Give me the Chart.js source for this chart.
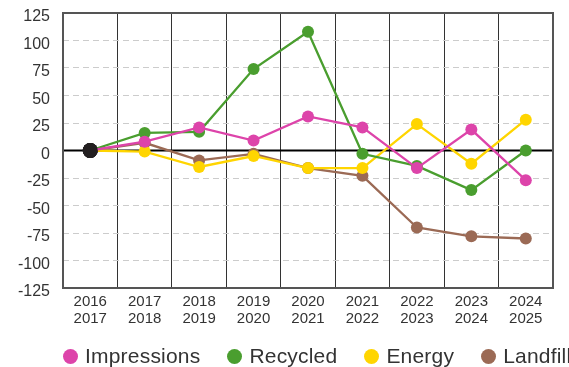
<!DOCTYPE html>
<html>
<head>
<meta charset="utf-8">
<script src="https://cdn.jsdelivr.net/npm/chart.js@4"></script>
<style>
  html, body { margin: 0; padding: 0; background: #fff; overflow: hidden; }
  #wrap { position: relative; width: 569px; height: 367px; }
  #legend {
    position: absolute; left: 63px; top: 342px; white-space: nowrap;
    font-family: "Liberation Sans", Arial, sans-serif; font-size: 21px; color: #333;
    line-height: 28px; letter-spacing: 0.2px;
  }
  #legend .item { display: inline-block; margin-right: 27px; }
  #legend .dot {
    display: inline-block; width: 15px; height: 15px; border-radius: 50%;
    margin-right: 7px; vertical-align: -1px;
  }
</style>
</head>
<body>
<div id="wrap">
  <canvas id="c" width="569" height="367"></canvas>
  <div id="legend"></div>
</div>
<script>
// Year-over-year change by period
const periods = [
  ['2016', '2017'], ['2017', '2018'], ['2018', '2019'], ['2019', '2020'],
  ['2020', '2021'], ['2021', '2022'], ['2022', '2023'], ['2023', '2024'],
  ['2024', '2025']
];
const impressions = [0, 8, 21, 9, 31, 21, -16, 19, -27];
const recycled    = [0, 16, 17, 74, 108, -3, -14, -36, 0];
const energy      = [0, -1, -15, -5, -16, -16, 24, -12, 28];
const landfill    = [0, 7, -9, -3, -16, -23, -70, -78, -80];
const yTicks = [125, 100, 75, 50, 25, 0, -25, -50, -75, -100, -125];

const seriesNames = ['Impressions', 'Recycled', 'Energy', 'Landfill'];
const seriesColors = ['#dd44aa', '#4a9e2f', '#ffd500', '#9b6a55'];
const seriesData = [impressions, recycled, energy, landfill];
const baseColor = '#231f20';

const font = '"Liberation Sans", Arial, sans-serif';

// Zero baseline and plot frame
const framePlugin = {
  id: 'frame',
  beforeDatasetsDraw(chart) {
    const { ctx, chartArea: a, scales: { y } } = chart;
    ctx.save();
    const y0 = y.getPixelForValue(0);
    ctx.strokeStyle = '#000';
    ctx.lineWidth = 2;
    ctx.beginPath();
    ctx.moveTo(a.left, y0);
    ctx.lineTo(a.right, y0);
    ctx.stroke();
    ctx.strokeStyle = '#555';
    ctx.lineWidth = 2;
    ctx.strokeRect(a.left, a.top, a.right - a.left, a.bottom - a.top);
    ctx.restore();
  }
};

const datasets = seriesNames.map((name, i) => ({
  label: name,
  data: seriesData[i],
  borderColor: seriesColors[i],
  backgroundColor: seriesColors[i],
  pointBackgroundColor: seriesData[i].map((_, k) => k === 0 ? baseColor : seriesColors[i]),
  pointBorderColor: seriesData[i].map((_, k) => k === 0 ? baseColor : seriesColors[i]),
  pointRadius: seriesData[i].map((_, k) => k === 0 ? 7.5 : 6),
  pointBorderWidth: 0,
  borderWidth: 2.3,
  tension: 0
}));

new Chart(document.getElementById('c'), {
  type: 'line',
  data: { labels: periods, datasets },
  options: {
    responsive: false,
    animation: false,
    events: [],
    layout: { padding: { left: 0, right: 16, top: 13, bottom: 34 } },
    plugins: { legend: { display: false }, tooltip: { enabled: false } },
    scales: {
      x: {
        offset: true,
        grid: { offset: true, color: '#333', lineWidth: 1, drawTicks: false },
        border: { display: false },
        ticks: { color: '#333', padding: 6, font: { family: font, size: 15, lineHeight: 1.1 }, maxRotation: 0 },
        afterFit(s) { s.height = 45; s.paddingLeft = 0; s.paddingRight = 0; }
      },
      y: {
        min: -125, max: 125,
        afterBuildTicks(s) { s.ticks = yTicks.map(v => ({ value: v })); },
        grid: {
          drawTicks: false,
          color: c => (c.tick && (c.tick.value === 0 || Math.abs(c.tick.value) === 125)) ? 'rgba(0,0,0,0)' : '#cccccc',
          lineWidth: 1
        },
        border: { display: false, dash: [6, 4] },
        ticks: { color: '#333', padding: 13, labelOffset: 4, font: { family: font, size: 16 } },
        afterFit(s) { s.width = 63; s.paddingTop = 0; s.paddingBottom = 0; }
      }
    }
  },
  plugins: [framePlugin]
});

// Legend row
const legend = document.getElementById('legend');
seriesNames.forEach((name, i) => {
  const item = document.createElement('span');
  item.className = 'item';
  const dot = document.createElement('span');
  dot.className = 'dot';
  dot.style.background = seriesColors[i];
  item.appendChild(dot);
  item.appendChild(document.createTextNode(name));
  legend.appendChild(item);
});
</script>
</body>
</html>
